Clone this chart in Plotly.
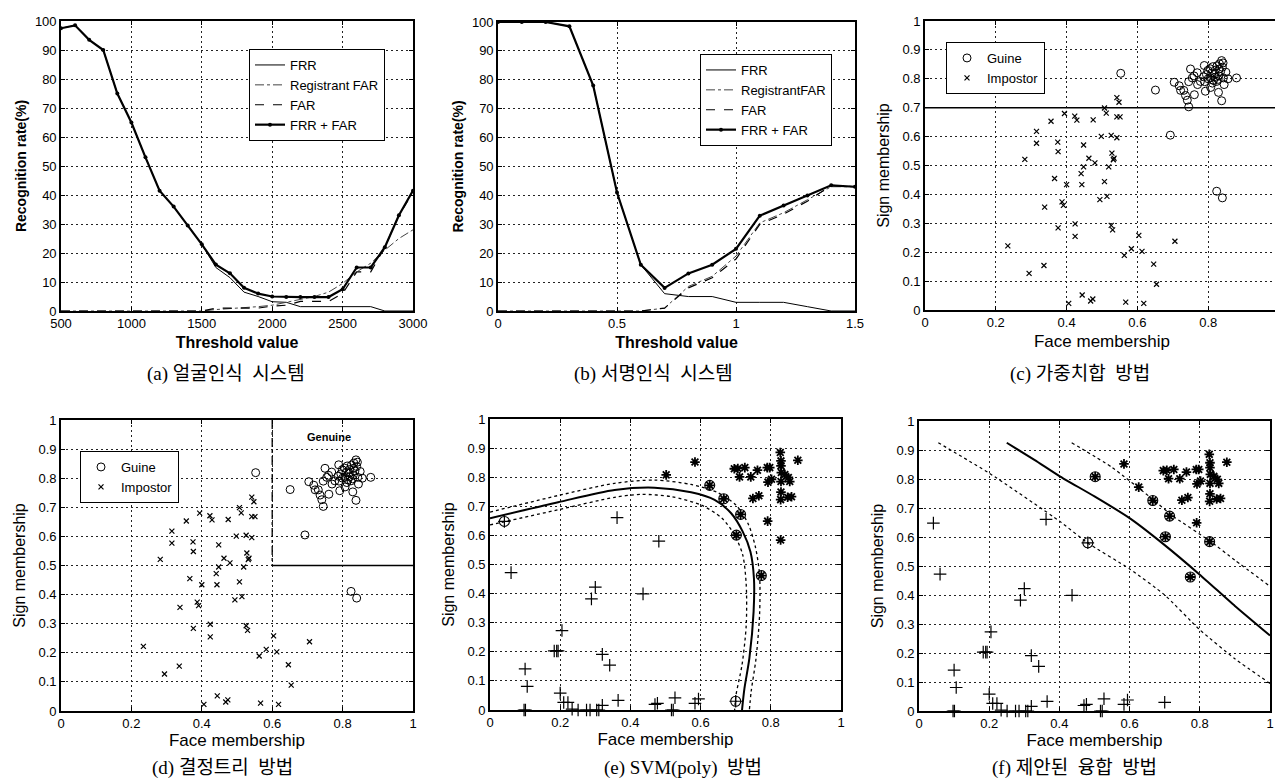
import plotly.graph_objects as go

# ---------------- (a) face recognition system ----------------
thr_a = [500, 600, 700, 800, 900, 1000, 1100, 1200, 1300, 1400, 1500, 1600, 1700,
         1800, 1900, 2000, 2100, 2200, 2300, 2400, 2500, 2600, 2700, 2800, 2900, 3000]
frr_a = [97.5, 98.5, 93.5, 90, 75, 65, 53, 41.5, 36, 29.5, 23, 15, 11.5,
         6.5, 5, 3.2, 3, 1.5, 1.5, 1.5, 1.5, 1.5, 1.5, 0, 0, 0]
regfar_a = [0, 0, 0, 0, 0, 0, 0, 0, 0, 0, 0, 0.5, 0.8,
            1, 1.5, 2, 3, 4, 5, 6.5, 9.5, 13.5, 16.5, 21, 25, 28]
far_a = [0, 0, 0, 0, 0, 0, 0, 0, 0, 0, 0, 1, 1,
         1.2, 1, 1.7, 2, 3.3, 3.3, 3.3, 6, 13.5, 13.5, 22, 33, 41]
sum_a = [97.5, 98.5, 93.5, 90, 75, 65, 53, 41.5, 36, 29.5, 23, 16, 13,
         8, 6, 5, 4.8, 4.8, 4.8, 4.8, 7.5, 15, 15, 22, 33, 41.5]

# ---------------- (b) signature recognition system ----------------
thr_b = [0, 0.1, 0.2, 0.3, 0.4, 0.5, 0.6, 0.7, 0.8, 0.9, 1.0, 1.1, 1.2, 1.3, 1.4, 1.5]
frr_b = [100, 100, 100, 98.5, 78, 41, 16, 6, 5, 5, 3, 3, 3, 1.5, 0, 0]
regfar_b = [0, 0, 0, 0, 0, 0, 0, 1, 8.5, 12, 19, 30.5, 34, 38.5, 43, 43]
far_b = [0, 0, 0, 0, 0, 0, 0, 1, 8, 11.5, 18, 30, 33.5, 38, 43.5, 43]
sum_b = [100, 100, 100, 98.5, 78, 41, 16, 8, 13, 16, 21.5, 33, 36.5, 40, 43.5, 43]

# ---------------- (c)/(d) membership scatter ----------------
guine_face = [0.553, 0.651, 0.693, 0.824, 0.840,
              0.704, 0.718, 0.722, 0.731, 0.736, 0.741, 0.745, 0.750, 0.755, 0.761,
              0.769, 0.778, 0.787, 0.789, 0.792, 0.799, 0.806, 0.807, 0.813, 0.819,
              0.824, 0.829, 0.831, 0.838, 0.838, 0.843, 0.850, 0.856, 0.880,
              0.81, 0.82, 0.83, 0.815, 0.825, 0.835, 0.805, 0.795, 0.84, 0.845,
              0.79, 0.80, 0.82, 0.832, 0.77, 0.745, 0.76, 0.842, 0.828, 0.812]
guine_sign = [0.819, 0.761, 0.605, 0.411, 0.388,
              0.788, 0.776, 0.760, 0.760, 0.742, 0.726, 0.703, 0.834, 0.803, 0.745,
              0.821, 0.791, 0.807, 0.846, 0.757, 0.829, 0.803, 0.770, 0.842, 0.817,
              0.791, 0.753, 0.834, 0.863, 0.724, 0.803, 0.823, 0.800, 0.803,
              0.82, 0.83, 0.81, 0.795, 0.845, 0.825, 0.835, 0.815, 0.84, 0.78,
              0.79, 0.80, 0.805, 0.852, 0.78, 0.79, 0.81, 0.855, 0.798, 0.785]
imp_face = [0.234, 0.282, 0.315, 0.315, 0.294, 0.338, 0.336, 0.356, 0.366, 0.375,
            0.376, 0.376, 0.387, 0.391, 0.394, 0.400, 0.406, 0.423, 0.429, 0.424,
            0.424, 0.448, 0.448, 0.441, 0.443, 0.444, 0.463, 0.475, 0.480, 0.468,
            0.474, 0.498, 0.494, 0.507, 0.512, 0.507, 0.514, 0.519, 0.526, 0.528,
            0.532, 0.534, 0.526, 0.530, 0.542, 0.548, 0.542, 0.551, 0.542, 0.563,
            0.567, 0.583, 0.604, 0.613, 0.618, 0.646, 0.654, 0.706]
imp_sign = [0.222, 0.521, 0.618, 0.577, 0.127, 0.356, 0.154, 0.653, 0.455, 0.581,
            0.548, 0.284, 0.374, 0.362, 0.680, 0.434, 0.023, 0.671, 0.657, 0.298,
            0.255, 0.571, 0.495, 0.472, 0.434, 0.052, 0.525, 0.658, 0.509, 0.031,
            0.038, 0.601, 0.382, 0.699, 0.681, 0.444, 0.393, 0.495, 0.604, 0.543,
            0.520, 0.525, 0.293, 0.277, 0.735, 0.719, 0.668, 0.668, 0.596, 0.189,
            0.027, 0.212, 0.258, 0.203, 0.023, 0.159, 0.089, 0.238]
wsum_threshold = 0.7          # (c) decision line
tree_face_split = 0.6         # (d) decision tree box
tree_sign_split = 0.5

# ---------------- (e)/(f) SVM data ----------------
neg_face = [0.041, 0.060, 0.100, 0.106, 0.183, 0.190, 0.194, 0.205, 0.200, 0.210,
            0.222, 0.097, 0.101, 0.234, 0.251, 0.275, 0.285, 0.304, 0.310, 0.320,
            0.289, 0.300, 0.320, 0.341, 0.365, 0.362, 0.436, 0.481, 0.470, 0.477,
            0.517, 0.522, 0.527, 0.584, 0.594, 0.700]
neg_sign = [0.648, 0.472, 0.141, 0.081, 0.203, 0.203, 0.203, 0.273, 0.058, 0.026,
            0.026, 0.0, 0.0, 0.003, 0.0, 0.0, 0.0, 0.0, 0.0, 0.016,
            0.382, 0.422, 0.191, 0.154, 0.033, 0.661, 0.399, 0.580, 0.019, 0.023,
            0.0, 0.0, 0.042, 0.023, 0.038, 0.030]
pos_face = [0.502, 0.584, 0.626, 0.696, 0.706, 0.711, 0.726, 0.743, 0.762, 0.749,
            0.766, 0.790, 0.797, 0.792, 0.802, 0.791, 0.827, 0.829, 0.829, 0.830,
            0.829, 0.829, 0.828, 0.828, 0.840, 0.850, 0.854, 0.848, 0.859, 0.877,
            0.666, 0.714, 0.702, 0.773]
pos_sign = [0.808, 0.852, 0.772, 0.829, 0.830, 0.801, 0.833, 0.801, 0.824, 0.727,
            0.736, 0.833, 0.833, 0.783, 0.793, 0.649, 0.885, 0.856, 0.839, 0.816,
            0.785, 0.749, 0.723, 0.584, 0.809, 0.799, 0.785, 0.731, 0.733, 0.858,
            0.726, 0.672, 0.601, 0.462]
sv_e_face = [0.041, 0.626, 0.666, 0.714, 0.702, 0.773, 0.700]
sv_e_sign = [0.648, 0.772, 0.726, 0.672, 0.601, 0.462, 0.030]
sv_f_face = [0.502, 0.481, 0.666, 0.714, 0.702, 0.828, 0.773]
sv_f_sign = [0.808, 0.580, 0.726, 0.672, 0.601, 0.584, 0.462]

svm_mid_x = [0.0, 0.194, 0.355, 0.469, 0.573, 0.640, 0.687, 0.720, 0.742, 0.752, 0.751, 0.739, 0.725, 0.718]
svm_mid_y = [0.659, 0.714, 0.756, 0.764, 0.748, 0.722, 0.676, 0.613, 0.544, 0.452, 0.338, 0.178, 0.075, 0.0]
svm_up_x = [0.0, 0.194, 0.355, 0.469, 0.573, 0.649, 0.701, 0.735, 0.756, 0.768, 0.768, 0.758, 0.744, 0.739]
svm_up_y = [0.680, 0.737, 0.779, 0.790, 0.775, 0.747, 0.704, 0.641, 0.561, 0.464, 0.326, 0.178, 0.063, 0.0]
svm_lo_x = [0.0, 0.194, 0.355, 0.431, 0.517, 0.602, 0.661, 0.697, 0.720, 0.730, 0.730, 0.718, 0.701, 0.697]
svm_lo_y = [0.636, 0.688, 0.731, 0.741, 0.733, 0.704, 0.659, 0.601, 0.533, 0.430, 0.292, 0.155, 0.052, 0.0]

fus_mid_x = [0.25, 0.33, 0.40, 0.50, 0.60, 0.70, 0.80, 0.90, 1.00]
fus_mid_y = [0.925, 0.865, 0.81, 0.74, 0.665, 0.572, 0.47, 0.362, 0.26]
fus_up_x = [0.435, 0.55, 0.666, 0.72, 0.83, 0.90, 1.00]
fus_up_y = [0.925, 0.84, 0.73, 0.675, 0.585, 0.52, 0.43]
fus_lo_x = [0.055, 0.20, 0.40, 0.48, 0.60, 0.70, 0.80, 0.90, 1.00]
fus_lo_y = [0.925, 0.82, 0.655, 0.58, 0.49, 0.40, 0.28, 0.18, 0.095]

captions = ["(a) 얼굴인식  시스템", "(b) 서명인식  시스템", "(c) 가중치합  방법",
            "(d) 결정트리  방법", "(e) SVM(poly)  방법", "(f) 제안된  융합  방법"]

# ---------------- figure ----------------
W, H = 1283, 782
SANS = "Liberation Sans, Arial, sans-serif"
CAP = "Liberation Serif, Noto Sans CJK KR, serif"
INK = "black"

fig = go.Figure()


def curves(xs, frr, reg, far, tot, xa, ya, legend, reg_name):
    fig.add_trace(go.Scatter(x=xs, y=frr, name="FRR", mode="lines", xaxis=xa, yaxis=ya,
                             legend=legend, line=dict(color=INK, width=1)))
    fig.add_trace(go.Scatter(x=xs, y=reg, name=reg_name, mode="lines", xaxis=xa, yaxis=ya,
                             legend=legend, line=dict(color="#444", width=1, dash="dashdot")))
    fig.add_trace(go.Scatter(x=xs, y=far, name="FAR", mode="lines", xaxis=xa, yaxis=ya,
                             legend=legend, line=dict(color=INK, width=1.2, dash="dash")))
    fig.add_trace(go.Scatter(x=xs, y=tot, name="FRR + FAR", mode="lines+markers", xaxis=xa,
                             yaxis=ya, legend=legend, line=dict(color=INK, width=2.2),
                             marker=dict(color=INK, size=4, symbol="circle")))


curves(thr_a, frr_a, regfar_a, far_a, sum_a, "x", "y", "legend", "Registrant FAR")
curves(thr_b, frr_b, regfar_b, far_b, sum_b, "x2", "y2", "legend2", "RegistrantFAR")


def members(xa, ya, legend):
    fig.add_trace(go.Scatter(x=guine_face, y=guine_sign, name="Guine", mode="markers",
                             xaxis=xa, yaxis=ya, legend=legend, cliponaxis=False,
                             marker=dict(symbol="circle-open", size=8, color=INK,
                                         line=dict(width=1))))
    fig.add_trace(go.Scatter(x=imp_face, y=imp_sign, name="Impostor", mode="markers",
                             xaxis=xa, yaxis=ya, legend=legend, cliponaxis=False,
                             marker=dict(symbol="x-thin-open", size=5, color=INK,
                                         line=dict(width=1.2))))


members("x3", "y3", "legend3")
fig.add_trace(go.Scatter(x=[0, 1], y=[wsum_threshold, wsum_threshold], mode="lines",
                         xaxis="x3", yaxis="y3", showlegend=False,
                         line=dict(color=INK, width=1.5)))

members("x4", "y4", "legend4")
fig.add_trace(go.Scatter(x=[tree_face_split, tree_face_split], y=[1, tree_sign_split],
                         mode="lines", xaxis="x4", yaxis="y4", showlegend=False,
                         line=dict(color=INK, width=1.3, dash="dashdot")))
fig.add_trace(go.Scatter(x=[tree_face_split, 1], y=[tree_sign_split, tree_sign_split],
                         mode="lines", xaxis="x4", yaxis="y4", showlegend=False,
                         line=dict(color=INK, width=1.5)))


def svm_points(xa, ya, svx, svy):
    fig.add_trace(go.Scatter(x=neg_face, y=neg_sign, mode="markers", xaxis=xa, yaxis=ya,
                             showlegend=False, cliponaxis=False,
                             marker=dict(symbol="cross-thin-open", size=9, color=INK,
                                         line=dict(width=1.2))))
    fig.add_trace(go.Scatter(x=pos_face, y=pos_sign, mode="markers", xaxis=xa, yaxis=ya,
                             showlegend=False, cliponaxis=False,
                             marker=dict(symbol="asterisk-open", size=8, color=INK,
                                         line=dict(width=1.8))))
    fig.add_trace(go.Scatter(x=svx, y=svy, mode="markers", xaxis=xa, yaxis=ya,
                             showlegend=False, cliponaxis=False,
                             marker=dict(symbol="circle-open-dot", size=10, color=INK,
                                         line=dict(width=1.1))))


svm_points("x5", "y5", sv_e_face, sv_e_sign)
for xs, ys, w, d in [(svm_mid_x, svm_mid_y, 2, "solid"), (svm_up_x, svm_up_y, 1.3, "dot"),
                     (svm_lo_x, svm_lo_y, 1.3, "dot")]:
    fig.add_trace(go.Scatter(x=xs, y=ys, mode="lines", xaxis="x5", yaxis="y5",
                             showlegend=False, line=dict(color=INK, width=w, dash=d,
                                                         shape="spline", smoothing=0.8)))

svm_points("x6", "y6", sv_f_face, sv_f_sign)
for xs, ys, w, d in [(fus_mid_x, fus_mid_y, 2, "solid"), (fus_up_x, fus_up_y, 1.2, "dot"),
                     (fus_lo_x, fus_lo_y, 1.2, "dot")]:
    fig.add_trace(go.Scatter(x=xs, y=ys, mode="lines", xaxis="x6", yaxis="y6",
                             showlegend=False, line=dict(color=INK, width=w, dash=d,
                                                         shape="spline", smoothing=0.5)))

# ---------------- axes ----------------
def px_dom(a, b, total, flip=False):
    if flip:
        return [1 - b / total, 1 - a / total]
    return [a / total, b / total]


boxes = {  # left, right, top, bottom in pixels
    "a": (53, 405, 13, 303), "b": (490, 847, 14, 303), "c": (917, 1271, 13, 302),
    "d": (53, 405, 412, 703), "e": (482, 833, 411, 702), "f": (911, 1262, 413, 703),
}


def ax_style(**kw):
    base = dict(showline=True, linecolor=INK, linewidth=1.6, mirror="ticks",
                ticks="inside", ticklen=4, tickcolor=INK, showgrid=True,
                gridcolor="#222", griddash="2px,3px", gridwidth=1, zeroline=False,
                tickfont=dict(family=SANS, size=13, color=INK), automargin=False,
                ticklabeloverflow="allow")
    base.update(kw)
    return base


layout = dict(width=W, height=H, margin=dict(l=0, r=0, t=0, b=0),
              paper_bgcolor="white", plot_bgcolor="white", font=dict(family=SANS, color=INK))

specs = [
    ("a", "", [500, 3000], [0, 100], 500, 10, "Threshold value", "Recognition rate(%)", True),
    ("b", "2", [0, 1.5], [0, 100], 0.5, 10, "Threshold value", "Recognition rate(%)", True),
    ("c", "3", [0, 1], [0, 1], 0.2, 0.1, "Face membership", "Sign membership", False),
    ("d", "4", [0, 1], [0, 1], 0.2, 0.1, "Face membership", "Sign membership", False),
    ("e", "5", [0, 1], [0, 1], 0.2, 0.1, "Face membership", "Sign membership", False),
    ("f", "6", [0, 1], [0, 1], 0.2, 0.1, "Face membership", "Sign membership", False),
]
for key, sfx, xr, yr, dx, dy, xt, yt, bold in specs:
    l, r, t, b = boxes[key]
    xfont = dict(family=SANS, size=16 if bold else 17, color=INK,
                 weight="bold" if bold else "normal")
    yfont = dict(family=SANS, size=14 if bold else 16, color=INK,
                 weight="bold" if bold else "normal")
    xstand = 0 if key in ("d", "e", "f") else 6
    layout["xaxis" + sfx] = ax_style(domain=px_dom(l, r, W), range=xr, dtick=dx, tick0=0,
                                     anchor="y" + sfx,
                                     title=dict(text=xt, font=xfont, standoff=xstand))
    layout["yaxis" + sfx] = ax_style(domain=px_dom(t, b, H, flip=True), range=yr, dtick=dy,
                                     tick0=0, anchor="x" + sfx,
                                     title=dict(text=yt, font=yfont, standoff=5 if bold else 9))

leg = dict(bgcolor="white", bordercolor=INK, borderwidth=1, xanchor="left", yanchor="top",
           font=dict(family=SANS, size=13, color=INK), tracegroupgap=0, itemwidth=30)
layout["legend"] = dict(leg, x=241 / W, y=1 - 41 / H)
layout["legend2"] = dict(leg, x=692 / W, y=1 - 46 / H)
layout["legend3"] = dict(leg, x=938 / W, y=1 - 34 / H)
layout["legend4"] = dict(leg, x=72 / W, y=1 - 443 / H)

cap_pos = [(218, 366), (645, 366), (1072, 366), (214, 760), (675, 760), (1066, 760)]
anns = []
for text, (cx, cy) in zip(captions, cap_pos):
    anns.append(dict(text=text, x=cx / W, y=1 - cy / H, xref="paper", yref="paper",
                     showarrow=False, xanchor="center", yanchor="middle",
                     font=dict(family=CAP, size=19, color=INK)))
anns.append(dict(text="<b>Genuine</b>", x=0.76, y=0.94, xref="x4", yref="y4",
                 showarrow=False, font=dict(family=SANS, size=11, color=INK)))
layout["annotations"] = anns

fig.update_layout(**layout)
fig.write_html("out.html")
